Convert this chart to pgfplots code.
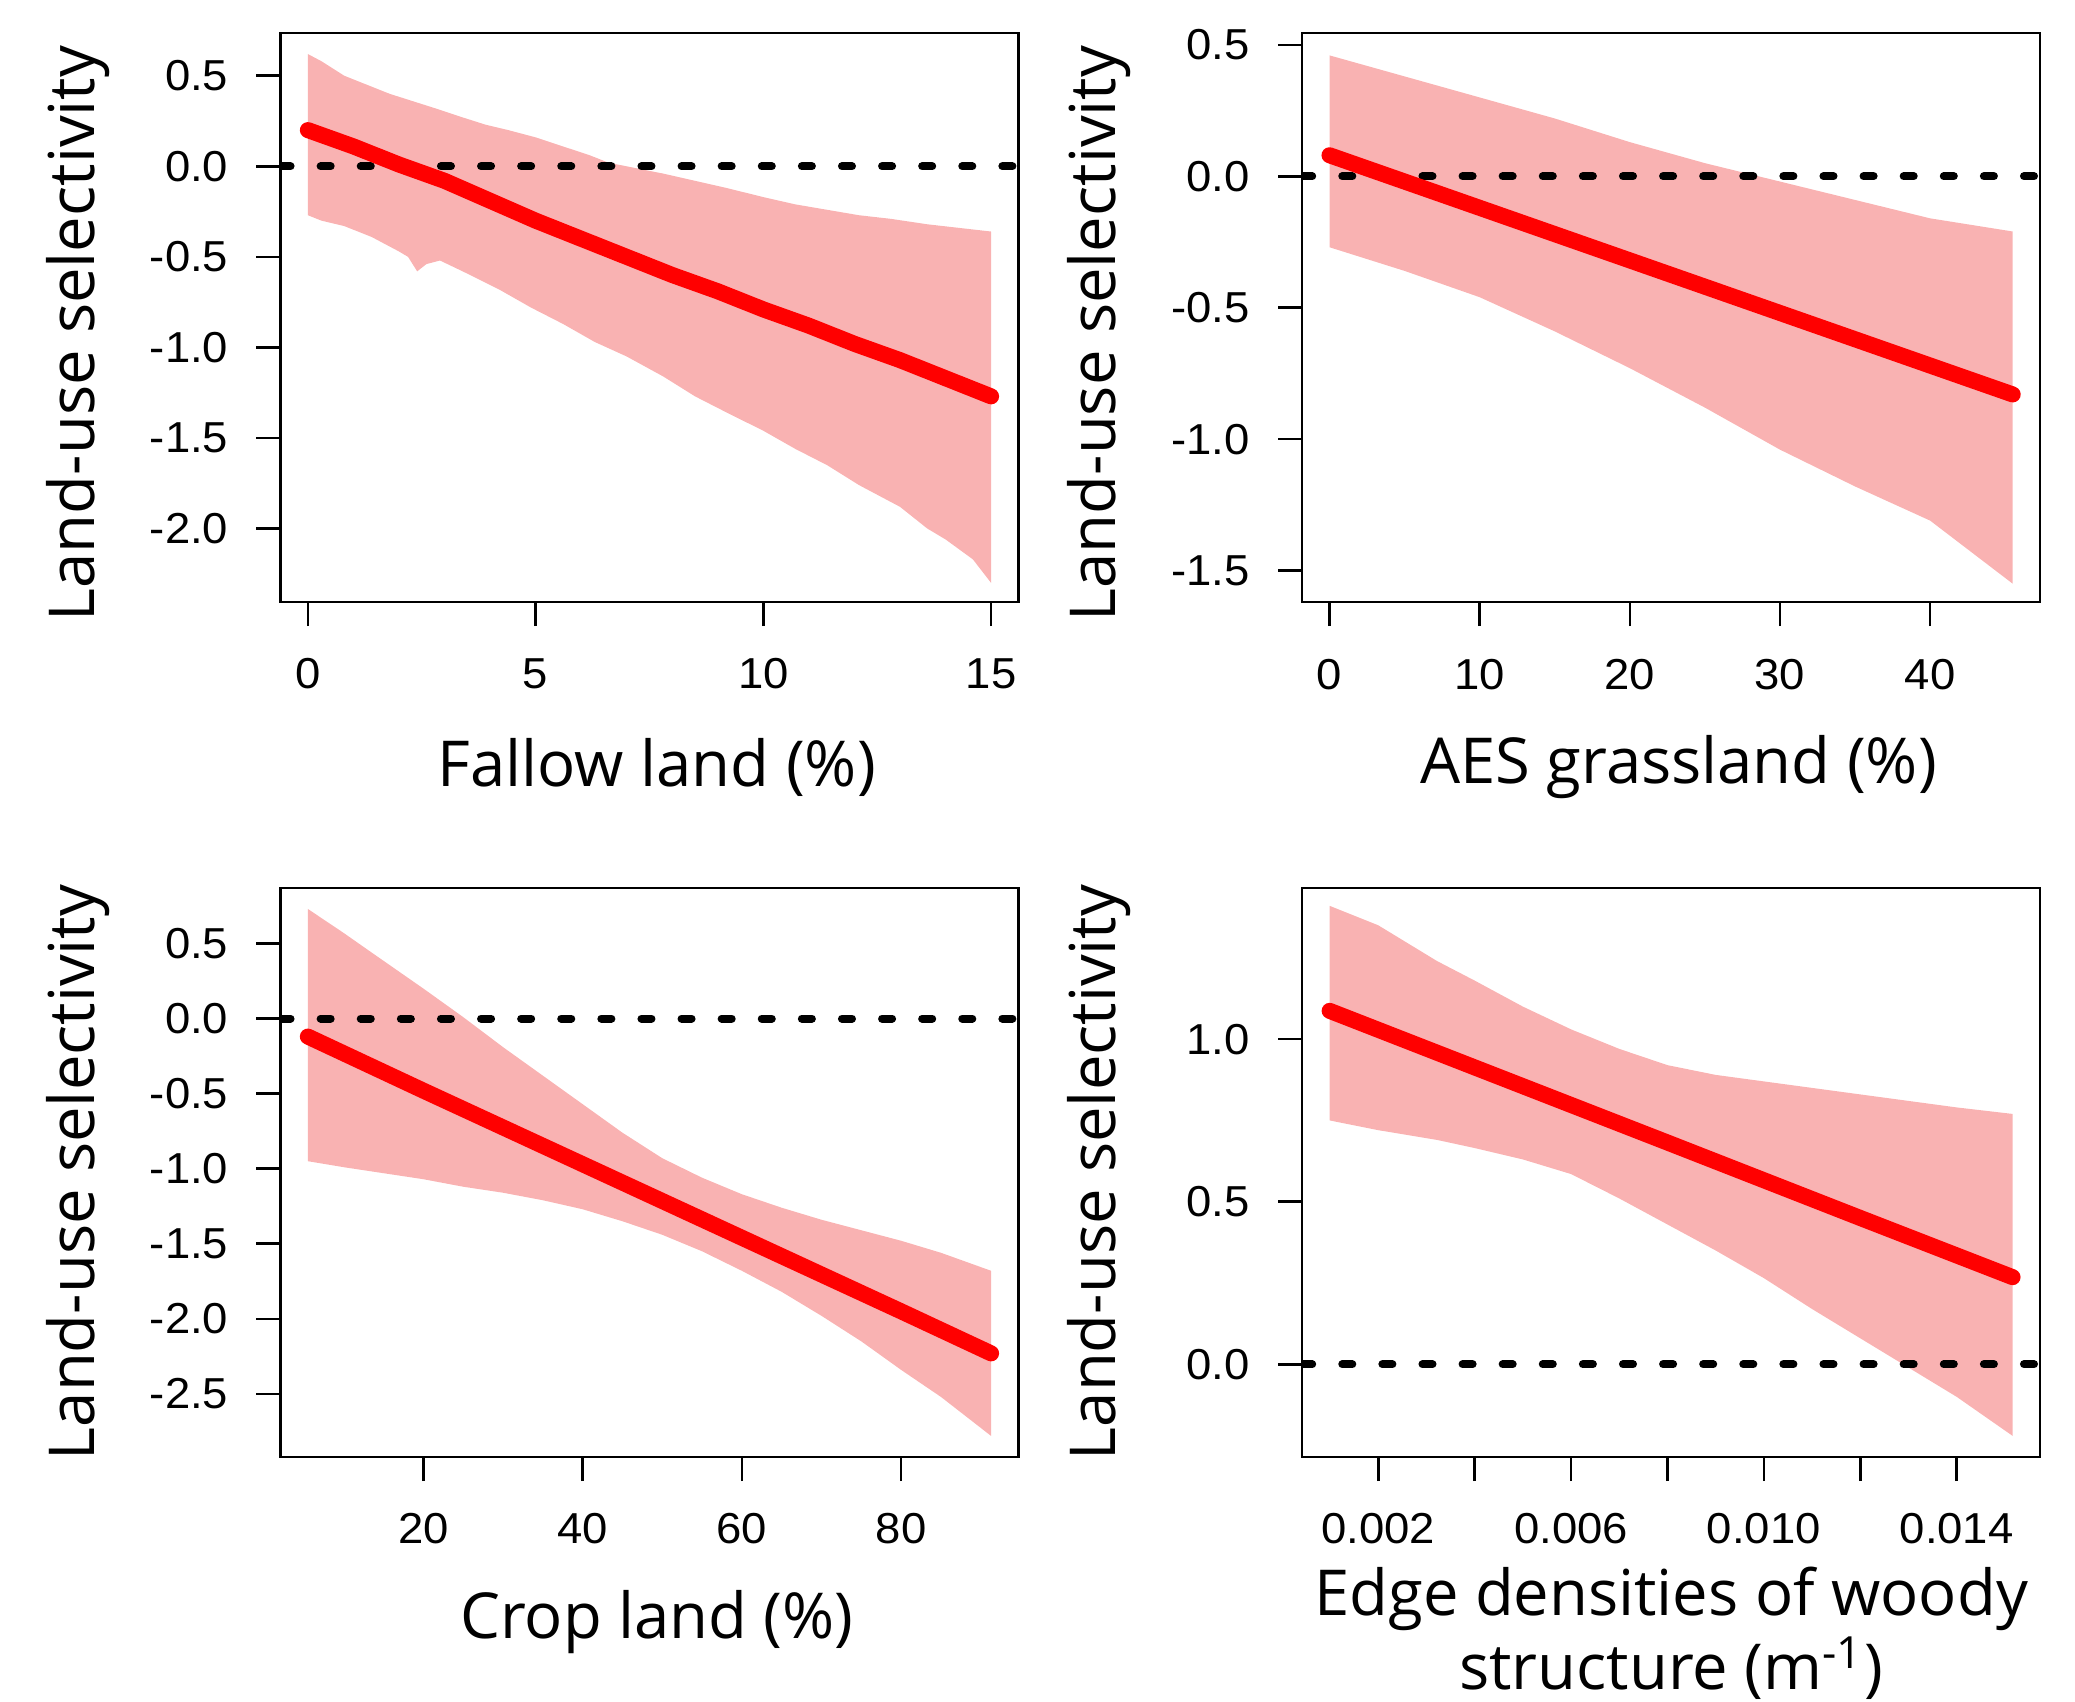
\documentclass[border=0pt]{standalone}
\usepackage{fontspec}
\usepackage{pgfplots}
\pgfplotsset{compat=1.18}
\newfontfamily\tickfont[FakeStretch=1.05]{Liberation Sans}
\newfontfamily\labfont{Open Sans}
\definecolor{bandpink}{RGB}{249,178,178}
\definecolor{fitred}{RGB}{255,0,0}
\newcommand{\labsize}{\labfont\fontsize{15.8pt}{18.6pt}\selectfont}

\pgfplotsset{rpanel/.style={
  scale only axis, width=184pt, height=141.9pt, anchor=south west,
  axis line style={line width=0.65pt, black},
  every tick/.style={black, line width=0.65pt},
  major tick length=6pt, tick align=outside,
  xtick pos=bottom, ytick pos=left,
  scaled x ticks=false, scaled y ticks=false,
  tick label style={font=\tickfont\fontsize{10.8pt}{12pt}\selectfont},
  yticklabel style={xshift=-3.5pt},
  xticklabel style={yshift=-4.6pt},
  every axis x label/.style={at={(axis description cs:0.51,-0.29)}, anchor=center, font=\labsize},
  every axis y label/.style={at={(axis description cs:-0.275,0.5)}, rotate=90, anchor=center, font=\labsize},
  ylabel={Land-use selectivity}
},
toprow/.style={every axis y label/.style={at={(axis description cs:-0.275,0.472)}, rotate=90, anchor=center, font=\labsize}},
band/.style={fill=bandpink, draw=none},
fit/.style={fitred, line width=4pt, line cap=round, line join=round},
zero/.style={black, line width=2pt, line cap=round, dash pattern=on 2.5pt off 7.5pt}
}

\begin{document}
\begin{tikzpicture}
\useasboundingbox (0,0) rectangle (517.44pt,424.38pt);

% Fallow land
\begin{axis}[rpanel, toprow, at={(69.96pt,274.23pt)},
  xmin=-0.6, xmax=15.6, ymin=-2.406, ymax=0.736,
  xtick={0,5,10,15}, xticklabels={0,5,10,15},
  ytick={-2,-1.5,-1,-0.5,0,0.5}, yticklabels={-2.0,-1.5,-1.0,-0.5,0.0,0.5},
  xlabel={Fallow land (\%)}]
  \addplot[band] coordinates {
    (0,0.62)(0.3,0.58)(0.8,0.50)(1.2,0.46)(1.8,0.40)(2.3,0.36)(2.8,0.32)
    (3.4,0.27)(3.9,0.23)(4.4,0.20)(5.0,0.16)(5.6,0.11)(6.2,0.06)(6.6,0.02)
    (7.2,-0.01)(7.8,-0.04)(8.5,-0.08)(9.2,-0.12)(10,-0.17)(10.7,-0.21)
    (11.4,-0.24)(12.1,-0.27)(12.8,-0.29)(13.6,-0.32)(14.3,-0.34)(15,-0.36)
    (15,-2.30)(14.6,-2.17)(14.0,-2.06)(13.6,-2.00)(13.0,-1.88)(12.1,-1.76)
    (11.4,-1.65)(10.7,-1.56)(10,-1.46)(9.2,-1.36)(8.5,-1.27)(7.8,-1.16)
    (7.0,-1.05)(6.3,-0.97)(5.6,-0.87)(4.9,-0.78)(4.2,-0.68)(3.4,-0.58)
    (2.9,-0.52)(2.6,-0.54)(2.4,-0.58)(2.2,-0.50)(2.0,-0.47)(1.4,-0.39)
    (0.8,-0.33)(0.3,-0.30)(0,-0.27)} -- cycle;
  \addplot[zero] coordinates {(-0.6,0)(15.6,0)};
  \addplot[fit] coordinates {
    (0,0.20)(1,0.11)(2,0.01)(3,-0.08)(4,-0.19)(5,-0.30)(6,-0.40)(7,-0.50)
    (8,-0.60)(9,-0.69)(10,-0.79)(11,-0.88)(12,-0.98)(13,-1.07)(14,-1.17)(15,-1.27)};
\end{axis}

% AES grassland
\begin{axis}[rpanel, toprow, at={(324.72pt,274.23pt)},
  xmin=-1.82, xmax=47.32, ymin=-1.62, ymax=0.545,
  xtick={0,10,20,30,40}, xticklabels={0,10,20,30,40},
  ytick={-1.5,-1,-0.5,0,0.5}, yticklabels={-1.5,-1.0,-0.5,0.0,0.5},
  xlabel={AES grassland (\%)}]
  \addplot[band] coordinates {
    (0,0.46)(5,0.38)(10,0.30)(15,0.22)(20,0.13)(25,0.05)(30,-0.02)(35,-0.09)
    (40,-0.16)(45.5,-0.21)
    (45.5,-1.55)(40,-1.31)(35,-1.18)(30,-1.04)(25,-0.88)(20,-0.73)(15,-0.59)
    (10,-0.46)(5,-0.36)(0,-0.27)} -- cycle;
  \addplot[zero] coordinates {(-1.82,0)(47.32,0)};
  \addplot[fit] coordinates {
    (0,0.08)(10,-0.12)(20,-0.32)(30,-0.52)(40,-0.72)(45.5,-0.83)};
\end{axis}

% Crop land
\begin{axis}[rpanel, at={(69.96pt,61.05pt)},
  xmin=2.07, xmax=94.73, ymin=-2.92, ymax=0.87,
  xtick={20,40,60,80}, xticklabels={20,40,60,80},
  ytick={-2.5,-2,-1.5,-1,-0.5,0,0.5}, yticklabels={-2.5,-2.0,-1.5,-1.0,-0.5,0.0,0.5},
  xlabel={Crop land (\%)}]
  \addplot[band] coordinates {
    (5.5,0.73)(10,0.57)(13.5,0.44)(20,0.20)(25,0.01)(30,-0.19)(35,-0.38)
    (40,-0.57)(45,-0.76)(50,-0.93)(55,-1.06)(60,-1.17)(65,-1.26)(70,-1.34)
    (75,-1.41)(80,-1.48)(85,-1.56)(91.3,-1.68)
    (91.3,-2.78)(85,-2.52)(80,-2.34)(75,-2.15)(70,-1.98)(65,-1.82)(60,-1.68)
    (55,-1.55)(50,-1.44)(45,-1.35)(40,-1.27)(35,-1.21)(30,-1.16)(25,-1.12)
    (20,-1.07)(15,-1.03)(10,-0.99)(5.5,-0.95)} -- cycle;
  \addplot[zero] coordinates {(2.07,0)(94.73,0)};
  \addplot[fit] coordinates {
    (5.5,-0.12)(20,-0.48)(40,-0.97)(60,-1.46)(80,-1.95)(91.3,-2.23)};
\end{axis}

% Edge densities
\begin{axis}[rpanel, at={(324.72pt,61.05pt)},
  xmin=0.00042, xmax=0.01573, ymin=-0.285, ymax=1.465,
  xtick={0.002,0.004,0.006,0.008,0.010,0.012,0.014},
  xticklabels={0.002,,0.006,,0.010,,0.014},
  ytick={0,0.5,1}, yticklabels={0.0,0.5,1.0},
  every axis x label/.style={at={(axis description cs:0.5,-0.31)}, anchor=center, align=center, font=\labsize},
  xlabel={Edge densities of woody\\structure (m\textsuperscript{-1})}]
  \addplot[band] coordinates {
    (0.00099,1.41)(0.002,1.35)(0.00322,1.24)(0.004,1.18)(0.005,1.10)(0.006,1.03)
    (0.007,0.97)(0.008,0.92)(0.009,0.89)(0.010,0.87)(0.011,0.85)(0.012,0.83)
    (0.013,0.81)(0.014,0.79)(0.01516,0.77)
    (0.01516,-0.22)(0.014,-0.10)(0.013,-0.01)(0.012,0.08)(0.011,0.17)(0.010,0.265)
    (0.009,0.35)(0.008,0.43)(0.007,0.51)(0.006,0.585)(0.005,0.63)(0.004,0.665)
    (0.00322,0.69)(0.002,0.72)(0.00099,0.75)} -- cycle;
  \addplot[zero] coordinates {(0.00042,0)(0.01573,0)};
  \addplot[fit] coordinates {
    (0.00099,1.087)(0.004,0.913)(0.008,0.682)(0.012,0.450)(0.01516,0.268)};
\end{axis}
\end{tikzpicture}
\end{document}
